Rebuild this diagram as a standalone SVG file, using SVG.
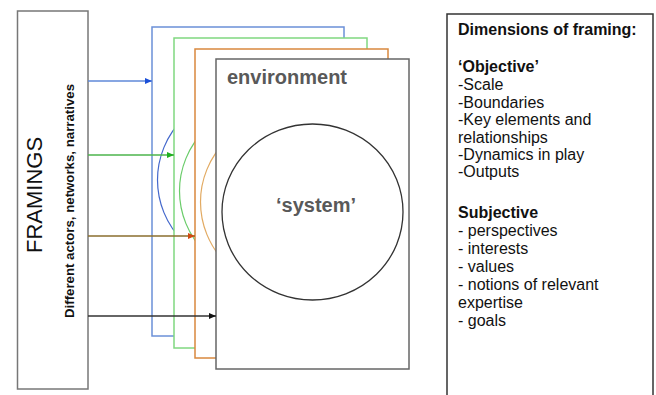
<svg xmlns="http://www.w3.org/2000/svg" width="656" height="395" viewBox="0 0 656 395">
<style>
.frame{fill:#fff;stroke-width:1.5}
.arc{fill:none;stroke-width:1.2}
.conn{fill:none;stroke-width:1.5}
.lbl{font-family:"Liberation Sans",Arial,sans-serif;fill:#111}
.big{font-family:"Liberation Sans",Arial,sans-serif;font-weight:bold;font-size:20px;fill:#595959}
.dim{font-family:"Liberation Sans",Arial,sans-serif;font-size:16px;fill:#111}
.b{font-weight:bold}
</style>
<defs>
<marker id="hb" markerWidth="7" markerHeight="6" refX="7" refY="3" orient="auto" markerUnits="userSpaceOnUse"><path d="M0,0L7,3L0,6Z" fill="#1a4fd8"/></marker>
<marker id="hg" markerWidth="7" markerHeight="6" refX="7" refY="3" orient="auto" markerUnits="userSpaceOnUse"><path d="M0,0L7,3L0,6Z" fill="#20b020"/></marker>
<marker id="ho" markerWidth="7" markerHeight="6" refX="7" refY="3" orient="auto" markerUnits="userSpaceOnUse"><path d="M0,0L7,3L0,6Z" fill="#d04a10"/></marker>
<marker id="hk" markerWidth="7" markerHeight="6" refX="7" refY="3" orient="auto" markerUnits="userSpaceOnUse"><path d="M0,0L7,3L0,6Z" fill="#111"/></marker>
</defs>
<rect width="656" height="395" fill="#fff"/>

<g id="framings">
<rect x="17.5" y="11" width="70.5" height="378" fill="#fff" stroke="#777" stroke-width="1.5"/>
<text class="lbl" transform="translate(42,195) rotate(-90)" text-anchor="middle" font-size="22">FRAMINGS</text>
<text class="lbl b" transform="translate(73.5,318) rotate(-90)" font-size="13.5" textLength="234" lengthAdjust="spacingAndGlyphs">Different actors, networks, narratives</text>
</g>

<g id="frame-blue">
<rect class="frame" x="152" y="27" width="192" height="309" stroke="#6b90d8"/>
<ellipse class="arc" cx="248" cy="180" rx="90.5" ry="88" stroke="#4468cc"/>
</g>
<g id="frame-green">
<rect class="frame" x="174" y="38" width="193" height="310" stroke="#80d880"/>
<ellipse class="arc" cx="270" cy="191" rx="90.5" ry="88" stroke="#6acc6a"/>
</g>
<g id="frame-orange">
<rect class="frame" x="195" y="49" width="193" height="309" stroke="#d9883e"/>
<ellipse class="arc" cx="291" cy="202" rx="90.5" ry="88" stroke="#e2aa62"/>
</g>
<g id="environment">
<rect class="frame" x="216" y="59" width="193" height="310" stroke="#666" stroke-width="2"/>
<text class="big" x="227" y="84">environment</text>
</g>
<g id="system">
<ellipse cx="312.5" cy="212" rx="90.5" ry="88" fill="none" stroke="#333" stroke-width="1.3"/>
<text class="big" x="316" y="212" text-anchor="middle">‘system’</text>
</g>

<g id="connectors">
<line class="conn" x1="88" y1="81" x2="152" y2="81" stroke="#5f88d8" marker-end="url(#hb)"/>
<line class="conn" x1="88" y1="155" x2="174" y2="155" stroke="#4cb44c" marker-end="url(#hg)"/>
<line class="conn" x1="88" y1="236" x2="195" y2="236" stroke="#8a6e2e" marker-end="url(#ho)"/>
<line class="conn" x1="88" y1="316" x2="216" y2="316" stroke="#333" marker-end="url(#hk)"/>
</g>

<g id="dimensions">
<rect x="447" y="14" width="206" height="400" fill="#fff" stroke="#333" stroke-width="1.5"/>
<text class="dim b" x="458" y="35">Dimensions of framing:</text>
<text class="dim b" x="458" y="72">‘Objective’</text>
<text class="dim" x="458" y="90">-Scale</text>
<text class="dim" x="458" y="107.5">-Boundaries</text>
<text class="dim" x="458" y="125">-Key elements and</text>
<text class="dim" x="458" y="142.5">relationships</text>
<text class="dim" x="458" y="160">-Dynamics in play</text>
<text class="dim" x="458" y="177">-Outputs</text>
<text class="dim b" x="458" y="218">Subjective</text>
<text class="dim" x="458" y="236">- perspectives</text>
<text class="dim" x="458" y="254">- interests</text>
<text class="dim" x="458" y="272">- values</text>
<text class="dim" x="458" y="290">- notions of relevant</text>
<text class="dim" x="458" y="308">expertise</text>
<text class="dim" x="458" y="326">- goals</text>
</g>
</svg>
